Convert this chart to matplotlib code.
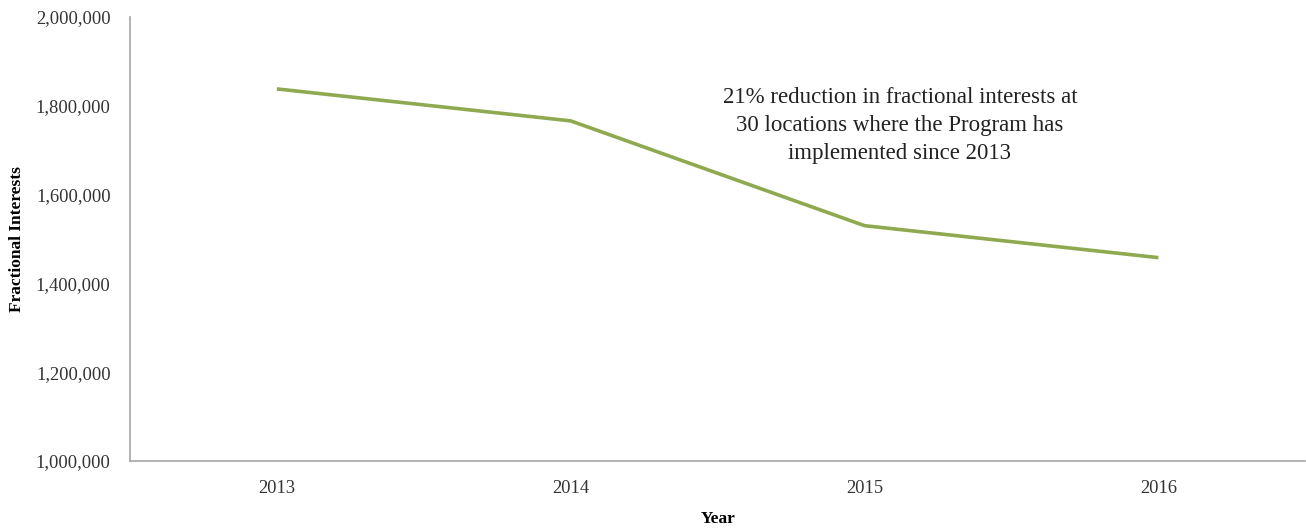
import matplotlib.pyplot as plt
from matplotlib.ticker import FuncFormatter

years = ["2013", "2014", "2015", "2016"]
fractional_interests = [1838000, 1766000, 1530000, 1458000]
note = ("21% reduction in fractional interests at\n"
        "30 locations where the Program has\n"
        "implemented since 2013")

plt.rcParams['font.family'] = ['Liberation Serif', 'DejaVu Serif']

fig = plt.figure(figsize=(13.06, 5.29), dpi=100)
ax = fig.add_axes([0.0995, 0.1285, 0.9, 0.8394])

x = range(len(years))
ax.plot(x, fractional_interests, color="#8EA94F", linewidth=2.6, solid_capstyle="butt")

ax.set_xlim(-0.5, len(years) - 0.5)
ax.set_ylim(1000000, 2000000)
ax.set_xticks(list(x))
ax.set_xticklabels(years)
ax.set_yticks(range(1000000, 2000001, 200000))
ax.yaxis.set_major_formatter(FuncFormatter(lambda v, p: "{:,.0f}".format(v)))
ax.tick_params(axis="both", length=0, labelsize=13.3, colors="#333333")
ax.tick_params(axis="x", pad=14)
ax.tick_params(axis="y", pad=14)

for s in ["top", "right"]:
    ax.spines[s].set_visible(False)
for s in ["left", "bottom"]:
    ax.spines[s].set_color("#a6a6a6")
    ax.spines[s].set_linewidth(1.2)

ax.set_xlabel("Year", fontsize=12.5, fontweight="bold", labelpad=10)
ax.set_ylabel("Fractional Interests", fontsize=12.5, fontweight="bold", labelpad=8)

ax.text(0.655, 0.755, note, transform=ax.transAxes, ha="center", va="center",
        fontsize=16.5, color="#222222", linespacing=1.45)

fig.savefig("out.png", dpi=100)
